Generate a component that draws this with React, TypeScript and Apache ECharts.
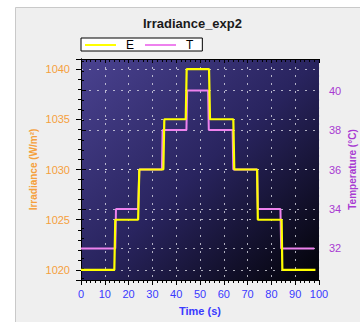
import React, { useEffect, useRef } from "react";
import * as echarts from "echarts";

const eTime = [0, 14, 14.4, 24, 24.5, 34.6, 35, 44, 44.4, 53.8, 54.2, 64, 64.4, 74, 74.3, 84.3, 84.6, 98.5];
const eValue = [1020, 1020, 1025, 1025, 1030, 1030, 1035, 1035, 1040, 1040, 1035, 1035, 1030, 1030, 1025, 1025, 1020, 1020];
const tTime = [0, 14.4, 14.7, 24, 24.5, 34, 34.3, 44.3, 44.6, 53.4, 53.7, 63.7, 64, 74, 74.3, 83.8, 84.1, 98];
const tValue = [32, 32, 34, 34, 36, 36, 38, 38, 40, 40, 38, 38, 36, 36, 34, 34, 32, 32];
const seriesNames = ["E", "T"];

const ORANGE = "#f5a03c";
const PURPLE = "#a83ad2";
const BLUE = "#3a3aff";
const GRIDLINE = "rgba(225,225,235,0.75)";
const FONT = "'Liberation Sans', Arial, sans-serif";

export default function App() {
  const ref = useRef<HTMLDivElement>(null);
  useEffect(() => {
    if (!ref.current) return;
    const chart = echarts.init(ref.current, null, { renderer: "svg" });
    const eData = eTime.map((t, i) => [t, eValue[i]]);
    const tData = tTime.map((t, i) => [t, tValue[i]]);
    chart.setOption({
      animation: false,
      backgroundColor: "#ffffff",
      textStyle: { fontFamily: FONT },
      graphic: [
        {
          type: "rect",
          z: -10,
          silent: true,
          shape: { x: 15.5, y: 7.5, width: 360, height: 330 },
          style: { fill: "#efefef", stroke: "#c9c9c9", lineWidth: 1 },
        },
      ],
      title: {
        text: "Irradiance_exp2",
        left: 143,
        top: 17,
        padding: 0,
        textStyle: { fontSize: 13, fontWeight: "bold", color: "#1a1a1a", fontFamily: FONT },
      },
      legend: {
        data: seriesNames,
        left: 81,
        top: 38,
        orient: "horizontal",
        icon: "rect",
        itemWidth: 31,
        itemHeight: 2,
        itemGap: 11,
        padding: [1, 9, 0, 4],
        backgroundColor: "#ffffff",
        borderColor: "#000000",
        borderWidth: 1,
        borderRadius: 0,
        textStyle: { fontSize: 12, color: "#000", padding: [0, 0, 0, 5], fontFamily: FONT },
      },
      grid: {
        left: 81,
        top: 59,
        width: 238,
        height: 221,
        containLabel: false,
        outerBoundsMode: "none",
        show: true,
        borderWidth: 0,
        backgroundColor: new echarts.graphic.LinearGradient(0, 0, 1, 1, [
          { offset: 0, color: "#4a4290" },
          { offset: 0.5, color: "#29245f" },
          { offset: 1, color: "#020206" },
        ]),
      },
      xAxis: [
        {
          type: "value",
          position: "bottom",
          min: 0,
          max: 100,
          interval: 10,
          axisLine: { show: true, lineStyle: { color: "#000", width: 1 } },
          axisTick: { show: true, length: 5, lineStyle: { color: "#000" } },
          minorTick: { show: true, splitNumber: 5, length: 3, lineStyle: { color: "#000" } },
          axisLabel: { color: BLUE, fontSize: 11, margin: 8, fontFamily: FONT },
          splitLine: { show: true, lineStyle: { color: GRIDLINE, type: [2, 6], width: 1 } },
          name: "Time (s)",
          nameLocation: "middle",
          nameGap: 25,
          nameMoveOverlap: false,
          nameTextStyle: { color: BLUE, fontSize: 11, fontWeight: "bold", fontFamily: FONT },
        },
        {
          type: "value",
          position: "top",
          min: 0,
          max: 100,
          interval: 10,
          axisLine: { show: true, lineStyle: { color: "#000", width: 1 } },
          axisTick: { show: true, inside: true, length: 4, lineStyle: { color: "#000" } },
          minorTick: { show: true, splitNumber: 5, length: 3, lineStyle: { color: "#000" } },
          axisLabel: { show: false },
          splitLine: { show: false },
        },
      ],
      yAxis: [
        {
          type: "value",
          position: "left",
          min: 1019,
          max: 1041,
          splitNumber: 4,
          axisLine: { show: true, lineStyle: { color: "#000", width: 1 } },
          axisTick: { show: true, length: 5, lineStyle: { color: "#000" } },
          minorTick: { show: true, splitNumber: 5, length: 3, lineStyle: { color: "#000" } },
          axisLabel: {
            color: ORANGE,
            fontSize: 11,
            margin: 11,
            fontFamily: FONT,
            formatter: (v: number) => (Math.abs(v % 5) < 1e-9 ? String(v) : ""),
          },
          splitLine: { show: true, lineStyle: { color: GRIDLINE, type: [2, 6], width: 1 } },
          name: "Irradiance (W/m²)",
          nameLocation: "middle",
          nameGap: 43,
          nameMoveOverlap: false,
          nameTextStyle: { color: ORANGE, fontSize: 10, fontWeight: "bold", fontFamily: FONT },
        },
        {
          type: "value",
          position: "right",
          min: 30.4,
          max: 41.6,
          splitNumber: 5,
          axisLine: { show: true, lineStyle: { color: "#000", width: 1 } },
          axisTick: { show: true, length: 5, lineStyle: { color: "#000" } },
          minorTick: { show: true, splitNumber: 4, length: 3, lineStyle: { color: "#000" } },
          axisLabel: {
            color: PURPLE,
            fontSize: 11,
            margin: 10,
            fontFamily: FONT,
            formatter: (v: number) => (Math.abs(v % 2) < 1e-9 ? String(v) : ""),
          },
          splitLine: { show: true, lineStyle: { color: GRIDLINE, type: [2, 6], width: 1 } },
          name: "Temperature (°C)",
          nameLocation: "middle",
          nameGap: 28,
          nameMoveOverlap: false,
          nameTextStyle: { color: PURPLE, fontSize: 10, fontWeight: "bold", fontFamily: FONT },
        },
      ],
      series: [
        {
          name: "T",
          type: "line",
          yAxisIndex: 1,
          data: tData,
          symbol: "none",
          showSymbol: false,
          lineStyle: { color: "#ee82ee", width: 2 },
          itemStyle: { color: "#ee82ee" },
          z: 2,
        },
        {
          name: "E",
          type: "line",
          yAxisIndex: 0,
          data: eData,
          symbol: "none",
          showSymbol: false,
          lineStyle: { color: "#ffff00", width: 2.2 },
          itemStyle: { color: "#ffff00" },
          z: 3,
        },
      ],
    });
    return () => chart.dispose();
  }, []);
  return (
    <div
      ref={ref}
      style={{ position: "absolute", left: 0, top: 0, width: 360, height: 322 }}
    />
  );
}
